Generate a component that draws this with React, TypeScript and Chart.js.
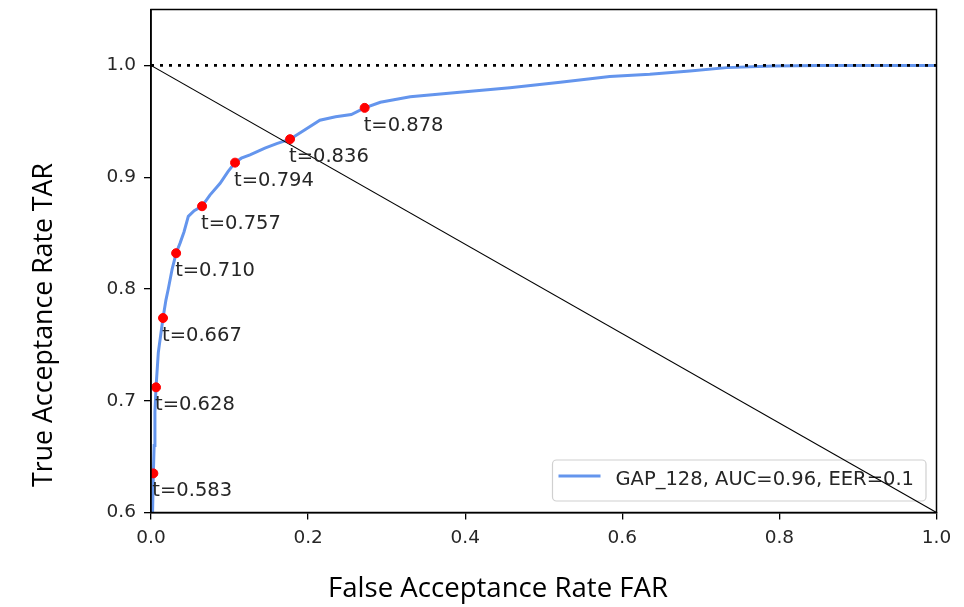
import React, { useEffect, useRef } from "react";
import { Chart, registerables } from "chart.js";

Chart.register(...registerables);

// ROC curve (FAR, TAR)
const rocFAR = [0.0, 0.002, 0.003, 0.004, 0.005, 0.0064, 0.0093, 0.0153, 0.019, 0.022, 0.027, 0.032, 0.037, 0.042, 0.0475, 0.055, 0.065, 0.075, 0.088, 0.098, 0.107, 0.115, 0.126, 0.145, 0.16, 0.177, 0.195, 0.215, 0.235, 0.255, 0.272, 0.292, 0.33, 0.393, 0.457, 0.521, 0.584, 0.635, 0.686, 0.733, 0.792, 0.85, 1.0];
const rocTAR = [0.56, 0.6, 0.635, 0.66, 0.69, 0.712, 0.743, 0.774, 0.79, 0.8, 0.818, 0.832, 0.841, 0.851, 0.865, 0.87, 0.874, 0.884, 0.8945, 0.905, 0.913, 0.917, 0.92, 0.926, 0.93, 0.934, 0.942, 0.951, 0.954, 0.956, 0.962, 0.967, 0.972, 0.976, 0.98, 0.985, 0.99, 0.992, 0.995, 0.998, 0.9995, 1.0, 1.0];

// Threshold markers
const thrFAR = [0.003, 0.0064, 0.0153, 0.032, 0.065, 0.107, 0.177, 0.272];
const thrTAR = [0.635, 0.712, 0.774, 0.832, 0.874, 0.913, 0.934, 0.962];
const thrLabels = ["t=0.583", "t=0.628", "t=0.667", "t=0.710", "t=0.757", "t=0.794", "t=0.836", "t=0.878"];

// Reference lines
const diagX = [0, 1];
const diagY = [1.0, 0.6];
const perfX = [0, 1];
const perfY = [1.0, 1.0];

const seriesLabel = "GAP_128, AUC=0.96, EER=0.1";
const xTitle = "False Acceptance Rate FAR";
const yTitle = "True Acceptance Rate TAR";

const xTicksMin = 0;
const xTicksMax = 1.0;
const xStep = 0.2;
const yMin = 0.6;
const yMax = 1.05;
const yStep = 0.1;

const TICK_FONT = "'DejaVu Sans', sans-serif";
const TITLE_FONT = "'Open Sans', 'Noto Sans', sans-serif";

function fitFont(ctx: CanvasRenderingContext2D, text: string, width: number) {
  ctx.font = `100px ${TITLE_FONT}`;
  const w = ctx.measureText(text).width;
  return (100 * width) / w;
}

const overlay = {
  id: "overlay",
  beforeDatasetsDraw(chart: any) {
    const ctx = chart.ctx as CanvasRenderingContext2D;
    const a = chart.chartArea;
    ctx.save();
    ctx.font = `19.5px ${TICK_FONT}`;
    const tw = ctx.measureText(seriesLabel).width;
    const boxW = 5 + 42 + 15 + tw + 13;
    const boxH = 41;
    const right = a.right - 10.5;
    const bottom = a.bottom - 11.5;
    const left = right - boxW;
    const top = bottom - boxH;
    ctx.beginPath();
    (ctx as any).roundRect(left, top, boxW, boxH, 4);
    ctx.fillStyle = "rgba(255,255,255,0.85)";
    ctx.fill();
    ctx.strokeStyle = "#d0d0d0";
    ctx.lineWidth = 1.2;
    ctx.stroke();
    ctx.beginPath();
    ctx.moveTo(left + 6, top + 16);
    ctx.lineTo(left + 48, top + 16);
    ctx.strokeStyle = "#6495ED";
    ctx.lineWidth = 3;
    ctx.stroke();
    ctx.fillStyle = "#262626";
    ctx.textBaseline = "alphabetic";
    ctx.textAlign = "left";
    ctx.fillText(seriesLabel, left + 63, top + 25);
    ctx.restore();
  },
  afterDatasetsDraw(chart: any) {
    const ctx = chart.ctx as CanvasRenderingContext2D;
    const meta = chart.getDatasetMeta(0);
    ctx.save();
    ctx.font = `19.5px ${TICK_FONT}`;
    ctx.fillStyle = "#262626";
    ctx.textAlign = "left";
    ctx.textBaseline = "alphabetic";
    meta.data.forEach((pt: any, i: number) => {
      ctx.fillText(thrLabels[i], pt.x - 1, pt.y + 23);
    });
    ctx.restore();
  },
  afterDraw(chart: any) {
    const ctx = chart.ctx as CanvasRenderingContext2D;
    const a = chart.chartArea;
    ctx.save();
    ctx.strokeStyle = "#000";
    ctx.lineWidth = 1.5;
    ctx.strokeRect(a.left, a.top, a.right - a.left, a.bottom - a.top);
    ctx.fillStyle = "#000";
    // x title
    const xs = fitFont(ctx, xTitle, 340);
    ctx.font = `${xs}px ${TITLE_FONT}`;
    ctx.textAlign = "center";
    ctx.textBaseline = "alphabetic";
    ctx.fillText(xTitle, 498, 597);
    // y title
    const ys = fitFont(ctx, yTitle, 324);
    ctx.font = `${ys}px ${TITLE_FONT}`;
    ctx.translate(52, 325);
    ctx.rotate(-Math.PI / 2);
    ctx.fillText(yTitle, 0, 0);
    ctx.restore();
  },
};

export default function App() {
  const ref = useRef<HTMLCanvasElement>(null);
  useEffect(() => {
    document.body.style.margin = "0";
    const canvas = ref.current!;
    const chart = new Chart(canvas, {
      type: "scatter",
      data: {
        datasets: [
          {
            label: "thresholds",
            data: thrFAR.map((x, i) => ({ x, y: thrTAR[i] })),
            backgroundColor: "#ff0000",
            borderColor: "#ff0000",
            pointRadius: 4.5,
            showLine: false,
            order: 0,
          },
          {
            label: "perfect",
            data: perfX.map((x, i) => ({ x, y: perfY[i] })),
            borderColor: "#000",
            borderWidth: 2.8,
            borderDash: [3, 6],
            borderCapStyle: "butt",
            pointRadius: 0,
            showLine: true,
            order: 1,
          },
          {
            label: "diag",
            data: diagX.map((x, i) => ({ x, y: diagY[i] })),
            borderColor: "#000",
            borderWidth: 1.1,
            pointRadius: 0,
            showLine: true,
            order: 2,
          },
          {
            label: seriesLabel,
            data: rocFAR.map((x, i) => ({ x, y: rocTAR[i] })),
            borderColor: "#6495ED",
            borderWidth: 3,
            pointRadius: 0,
            showLine: true,
            tension: 0,
            order: 3,
          },
        ],
      },
      options: {
        responsive: false,
        animation: false,
        layout: { padding: { left: 0, top: 9.5, right: 27.5, bottom: 0 } },
        plugins: { legend: { display: false }, tooltip: { enabled: false } },
        scales: {
          x: {
            type: "linear",
            min: xTicksMin,
            max: xTicksMax,
            ticks: {
              stepSize: xStep,
              font: { family: TICK_FONT, size: 18.5 },
              color: "#262626",
              padding: 8,
              callback: (v: any) => Number(v).toFixed(1),
            },
            grid: { display: true, drawOnChartArea: false, drawTicks: true, tickLength: 7, color: "#000", lineWidth: 1.3 },
            border: { display: true, color: "#000", width: 1.5 },
            afterFit: (s: any) => {
              s.height = 94.5;
              s.paddingLeft = 0;
              s.paddingRight = 0;
            },
          },
          y: {
            type: "linear",
            min: yMin,
            max: yMax,
            ticks: {
              stepSize: yStep,
              font: { family: TICK_FONT, size: 18.5 },
              color: "#262626",
              padding: 8,
              callback: (v: any) => Number(v).toFixed(1),
            },
            afterBuildTicks: (s: any) => {
              s.ticks = s.ticks.filter((t: any) => t.value <= 1.0001);
            },
            grid: { display: true, drawOnChartArea: false, drawTicks: true, tickLength: 7, color: "#000", lineWidth: 1.3 },
            border: { display: true, color: "#000", width: 1.5 },
            afterFit: (s: any) => {
              s.width = 151;
              s.paddingTop = 0;
              s.paddingBottom = 0;
            },
          },
        },
      },
      plugins: [overlay],
    });
    return () => chart.destroy();
  }, []);
  return (
    <div style={{ width: 964, height: 607, background: "#fff" }}>
      <canvas ref={ref} width={964} height={607} style={{ display: "block" }} />
    </div>
  );
}
